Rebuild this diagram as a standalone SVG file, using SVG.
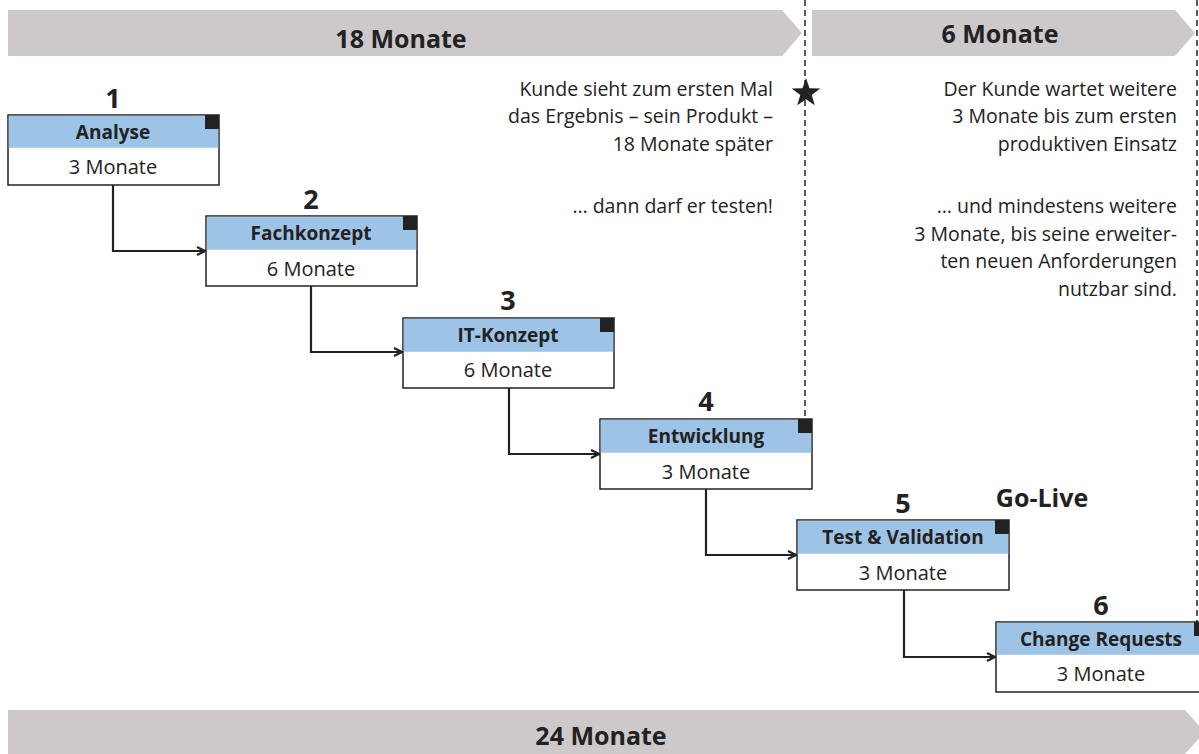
<svg xmlns="http://www.w3.org/2000/svg" width="1199" height="754" viewBox="0 0 1199 754">
<style>
.bar{fill:#cdc9ca}
.bt{font-family:"Open Sans","Noto Sans",sans-serif;font-weight:bold;font-size:25px;fill:#222;text-anchor:middle;dominant-baseline:central}
.num{font-family:"Open Sans","Noto Sans",sans-serif;font-weight:bold;font-size:27px;fill:#222;text-anchor:middle;dominant-baseline:central}
.box{fill:#fff;stroke:#222;stroke-width:1.5}
.hd{fill:#9dc3e6}
.ht{font-family:"Open Sans","Noto Sans",sans-serif;font-weight:bold;font-size:19px;fill:#222;text-anchor:middle;dominant-baseline:central}
.dt{font-family:"Open Sans","Noto Sans",sans-serif;font-size:20px;fill:#222;text-anchor:middle;dominant-baseline:central}
.note{font-family:"Open Sans","Noto Sans",sans-serif;font-size:19.5px;fill:#222;text-anchor:end;dominant-baseline:central}
.cn{fill:none;stroke:#222;stroke-width:2.2;marker-end:url(#ah)}
.dash{stroke:#222;stroke-width:1.5;stroke-dasharray:6 4;fill:none}
</style>
<defs>
<marker id="ah" viewBox="0 0 10 10" refX="9" refY="5" markerWidth="10" markerHeight="10" markerUnits="userSpaceOnUse" orient="auto">
<path d="M1,1 L9,5 L1,9" fill="none" stroke="#222" stroke-width="2.2"/>
</marker>
</defs>
<g id="bars">
<polygon class="bar" points="8,10 782,10 802,33 782,56 8,56"/>
<text class="bt" x="401" y="38">18 Monate</text>
<polygon class="bar" points="812,10 1175,10 1195,33 1175,56 812,56"/>
<text class="bt" x="1000" y="33">6 Monate</text>
<polygon class="bar" points="8,710 1185,710 1205,732 1185,754 8,754"/>
<text class="bt" x="601" y="735">24 Monate</text>
</g>
<g id="dashes">
<line class="dash" x1="805" y1="0" x2="805" y2="419"/>
<line class="dash" x1="1197" y1="0" x2="1197" y2="622"/>
</g>
<g id="star">
<polygon fill="#222" points="806,78 809.5,88.3 820.3,88.5 811.7,95 814.8,105.3 806,99.2 797.2,105.3 800.3,95 791.7,88.5 802.5,88.3"/>
</g>
<g id="notes">
<text class="note" x="773" y="88">Kunde sieht zum ersten Mal</text>
<text class="note" x="773" y="115">das Ergebnis – sein Produkt –</text>
<text class="note" x="773" y="143">18 Monate später</text>
<text class="note" x="773" y="205">… dann darf er testen!</text>
<text class="note" x="1177" y="88">Der Kunde wartet weitere</text>
<text class="note" x="1177" y="115">3 Monate bis zum ersten</text>
<text class="note" x="1177" y="143">produktiven Einsatz</text>
<text class="note" x="1177" y="205">… und mindestens weitere</text>
<text class="note" x="1177" y="233">3 Monate, bis seine erweiter-</text>
<text class="note" x="1177" y="260">ten neuen Anforderungen</text>
<text class="note" x="1177" y="288">nutzbar sind.</text>
<text class="bt" x="1042" y="497">Go-Live</text>
</g>
<g id="connectors">
<polyline class="cn" points="113,185 113,251 205,251"/>
<polyline class="cn" points="311,286 311,352 402,352"/>
<polyline class="cn" points="509,388 509,454 599,454"/>
<polyline class="cn" points="706,489 706,555 796,555"/>
<polyline class="cn" points="904,590 904,657 995,657"/>
</g>
<g id="n1">
<text class="num" x="113" y="97">1</text>
<rect class="box" x="8" y="115" width="211" height="70"/>
<rect class="hd" x="8.75" y="115.75" width="209.5" height="32"/>
<rect fill="#222" x="205" y="115" width="14" height="14"/>
<text class="ht" x="113" y="132">Analyse</text>
<text class="dt" x="113" y="166">3 Monate</text>
</g>
<g id="n2">
<text class="num" x="311" y="198">2</text>
<rect class="box" x="206" y="216" width="211" height="70"/>
<rect class="hd" x="206.75" y="216.75" width="209.5" height="33"/>
<rect fill="#222" x="403" y="216" width="14" height="14"/>
<text class="ht" x="311" y="233">Fachkonzept</text>
<text class="dt" x="311" y="268">6 Monate</text>
</g>
<g id="n3">
<text class="num" x="508" y="299">3</text>
<rect class="box" x="403" y="318" width="211" height="70"/>
<rect class="hd" x="403.75" y="318.75" width="209.5" height="33"/>
<rect fill="#222" x="600" y="318" width="14" height="14"/>
<text class="ht" x="508" y="335">IT-Konzept</text>
<text class="dt" x="508" y="369">6 Monate</text>
</g>
<g id="n4">
<text class="num" x="706" y="400">4</text>
<rect class="box" x="600" y="419" width="212" height="70"/>
<rect class="hd" x="600.75" y="419.75" width="210.5" height="33"/>
<rect fill="#222" x="798" y="419" width="14" height="14"/>
<text class="ht" x="706" y="436">Entwicklung</text>
<text class="dt" x="706" y="471">3 Monate</text>
</g>
<g id="n5">
<text class="num" x="903" y="502">5</text>
<rect class="box" x="797" y="520" width="212" height="70"/>
<rect class="hd" x="797.75" y="520.75" width="210.5" height="33"/>
<rect fill="#222" x="995" y="520" width="14" height="14"/>
<text class="ht" x="903" y="537">Test &amp; Validation</text>
<text class="dt" x="903" y="572">3 Monate</text>
</g>
<g id="n6">
<text class="num" x="1101" y="604">6</text>
<rect class="box" x="996" y="622" width="212" height="70"/>
<rect class="hd" x="996.75" y="622.75" width="210.5" height="32"/>
<rect fill="#222" x="1194" y="622" width="14" height="14"/>
<text class="ht" x="1101" y="639">Change Requests</text>
<text class="dt" x="1101" y="673">3 Monate</text>
</g>
</svg>
